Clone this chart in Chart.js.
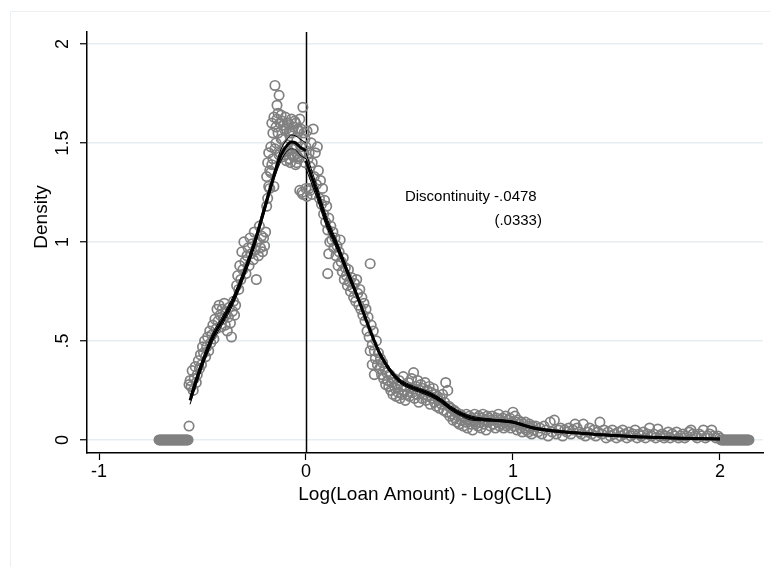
<!DOCTYPE html>
<html>
<head>
<meta charset="utf-8">
<script src="https://cdn.jsdelivr.net/npm/chart.js@4.4.1/dist/chart.umd.min.js"></script>
<style>
    html, body { margin: 0; padding: 0; background: #fff; }
    #wrap { position: relative; width: 770px; height: 567px; }
</style>
</head>
<body>
<div id="wrap"><canvas id="chart1" width="770" height="567"></canvas></div>
<script>
// binned density estimates: [log difference, density]
const binsLowTail = [
    [-0.71,0],[-0.705,0],[-0.70,0],[-0.695,0],[-0.69,0],[-0.685,0],[-0.68,0],[-0.675,0],[-0.67,0],
    [-0.665,0],[-0.66,0],[-0.655,0],[-0.65,0],[-0.645,0],[-0.64,0],[-0.635,0],[-0.63,0],[-0.625,0],
    [-0.62,0],[-0.615,0],[-0.61,0],[-0.605,0],[-0.60,0],[-0.595,0],[-0.59,0],[-0.585,0],[-0.58,0],
    [-0.575,0],[-0.57,0],[-0.565,0.07]
];
const binsRise = [
    [-0.565,0.28],[-0.56,0.30],[-0.555,0.27],[-0.55,0.35],[-0.545,0.25],[-0.54,0.31],[-0.535,0.37],
    [-0.53,0.29],[-0.525,0.33],[-0.52,0.40],[-0.515,0.36],[-0.51,0.43],[-0.505,0.38],[-0.50,0.47],
    [-0.495,0.44],[-0.49,0.50],[-0.485,0.42],[-0.48,0.47],[-0.475,0.52],[-0.47,0.45],[-0.465,0.55],
    [-0.46,0.49],[-0.455,0.53],[-0.45,0.58],[-0.445,0.51],[-0.44,0.61],[-0.435,0.56],[-0.43,0.66],
    [-0.425,0.60],[-0.42,0.68],[-0.415,0.63],[-0.41,0.57],[-0.405,0.66],[-0.40,0.61],[-0.395,0.69],
    [-0.39,0.58],[-0.385,0.64],[-0.38,0.55],[-0.375,0.62],[-0.37,0.67],[-0.365,0.59],[-0.36,0.52],
    [-0.355,0.65],[-0.35,0.70],[-0.345,0.63],[-0.34,0.68],[-0.335,0.78],[-0.33,0.83],[-0.325,0.76],
    [-0.32,0.88],[-0.315,0.81],[-0.31,0.95],[-0.305,0.86],[-0.30,1.00],[-0.295,0.90],[-0.29,0.84],
    [-0.285,0.93],[-0.28,0.97],[-0.275,0.88],[-0.27,1.02],[-0.265,0.94],[-0.26,0.99],[-0.255,0.91],
    [-0.25,1.05],[-0.245,0.96],[-0.24,0.81],[-0.235,1.00],[-0.23,0.93],[-0.225,1.08],[-0.22,0.97],
    [-0.215,1.03],[-0.21,0.95],[-0.205,1.02],[-0.20,0.98],[-0.195,1.05]
];
const binsPeak = [
    [-0.19,1.18],[-0.19,1.33],[-0.185,1.22],[-0.185,1.40],[-0.18,1.28],[-0.18,1.45],[-0.175,1.27],
    [-0.175,1.36],[-0.17,1.35],[-0.17,1.48],[-0.165,1.39],[-0.165,1.60],[-0.16,1.42],[-0.16,1.55],
    [-0.155,1.28],[-0.155,1.63],[-0.15,1.47],[-0.15,1.79],[-0.145,1.58],[-0.145,1.50],[-0.14,1.62],
    [-0.14,1.69],[-0.135,1.55],[-0.135,1.65],[-0.13,1.74],[-0.13,1.44],[-0.125,1.60],[-0.125,1.45],
    [-0.12,1.64],[-0.12,1.52],[-0.115,1.52],[-0.115,1.61],[-0.11,1.59],[-0.11,1.43],[-0.105,1.44],
    [-0.105,1.57],[-0.10,1.63],[-0.10,1.48],[-0.095,1.57],[-0.095,1.41],[-0.09,1.49],[-0.09,1.60],
    [-0.085,1.60],[-0.085,1.46],[-0.08,1.42],[-0.08,1.56],[-0.075,1.55],[-0.075,1.40],[-0.07,1.62],
    [-0.07,1.44],[-0.065,1.47],[-0.065,1.56],[-0.06,1.58],[-0.06,1.43],[-0.055,1.44],[-0.055,1.61],
    [-0.05,1.60],[-0.05,1.39],[-0.045,1.51],[-0.045,1.40],[-0.04,1.43],[-0.04,1.57],[-0.035,1.56],
    [-0.035,1.42],[-0.03,1.62],[-0.03,1.26],[-0.025,1.48],[-0.025,1.57],[-0.02,1.25],[-0.02,1.45],
    [-0.015,1.68],[-0.015,1.24],[-0.01,1.45],[-0.01,1.55],[-0.005,1.52],[-0.005,1.40]
];
const binsFall = [
    [0.0,1.48],[0.0,1.27],[0.005,1.56],[0.005,1.23],[0.01,1.42],[0.015,1.27],[0.015,1.45],[0.02,1.38],
    [0.02,1.26],[0.025,1.50],[0.03,1.24],[0.03,1.40],[0.035,1.57],[0.04,1.33],[0.045,1.45],[0.05,1.29],
    [0.055,1.48],[0.06,1.36],[0.065,1.22],[0.07,1.31],[0.075,1.19],[0.08,1.27],[0.085,1.14],[0.09,1.21],
    [0.095,1.10],[0.10,1.18],[0.105,1.06],[0.105,0.84],[0.11,1.12],[0.11,0.94],[0.115,1.00],[0.12,1.08],
    [0.125,1.01],[0.13,1.05],[0.135,0.97],[0.14,1.02],[0.145,0.93],[0.15,0.98],[0.155,0.88],[0.16,0.95],
    [0.165,1.01],[0.17,0.90],[0.175,0.85],[0.18,0.92],[0.185,0.81],[0.19,0.87],[0.195,0.83],[0.20,0.78],
    [0.205,0.86],[0.21,0.80],[0.215,0.75],[0.22,0.82],[0.225,0.77],[0.23,0.72],[0.235,0.79],[0.24,0.70],
    [0.245,0.81],[0.25,0.74],[0.255,0.68],[0.26,0.76],[0.265,0.66],[0.27,0.72],[0.275,0.63],[0.28,0.69],
    [0.285,0.60],[0.29,0.66],[0.295,0.55],[0.30,0.62],[0.305,0.52],[0.31,0.89],[0.31,0.45],[0.315,0.58],
    [0.32,0.48],[0.32,0.38],[0.325,0.55],[0.33,0.45],[0.33,0.33],[0.335,0.41],[0.34,0.50],[0.345,0.38],
    [0.35,0.44],[0.355,0.36],[0.36,0.41]
];
const binsShoulder = [
    [0.365,0.33],[0.37,0.39],[0.375,0.31],[0.38,0.36],[0.385,0.28],[0.39,0.34],[0.395,0.30],[0.40,0.27],
    [0.405,0.33],[0.41,0.25],[0.415,0.29],[0.42,0.23],[0.425,0.31],[0.43,0.26],[0.435,0.22],[0.44,0.28],
    [0.445,0.24],[0.45,0.30],[0.455,0.21],[0.46,0.27],[0.465,0.23],[0.47,0.32],[0.475,0.25],[0.48,0.20],
    [0.485,0.27],[0.49,0.23],[0.495,0.29],[0.50,0.22],[0.505,0.26],[0.51,0.31],[0.515,0.24],[0.52,0.34],
    [0.525,0.21],[0.53,0.27],[0.535,0.23],[0.54,0.30],[0.545,0.19],[0.55,0.25],[0.555,0.28],[0.56,0.21],
    [0.565,0.26],[0.57,0.23],[0.575,0.29],[0.58,0.20],[0.585,0.25],[0.59,0.22],[0.595,0.27],[0.60,0.18],
    [0.605,0.24],[0.61,0.21],[0.615,0.26],[0.62,0.19],[0.625,0.23],[0.63,0.17],[0.635,0.22],[0.64,0.20],
    [0.645,0.16],[0.65,0.21],[0.655,0.18],[0.66,0.23],[0.665,0.15],[0.67,0.19],[0.675,0.29],[0.68,0.14],
    [0.685,0.25],[0.69,0.17],[0.695,0.12],[0.70,0.16],[0.705,0.13],[0.71,0.10],[0.715,0.15],[0.72,0.11],
    [0.725,0.14],[0.73,0.09],[0.735,0.12],[0.74,0.08],[0.745,0.13],[0.75,0.10],[0.755,0.12],[0.76,0.07],
    [0.765,0.11],[0.77,0.09],[0.775,0.13],[0.78,0.06],[0.785,0.10],[0.79,0.12],[0.795,0.08],[0.80,0.11],
    [0.805,0.05],[0.81,0.10],[0.815,0.13],[0.82,0.08],[0.825,0.11],[0.83,0.07],[0.835,0.12],[0.84,0.09],
    [0.845,0.06],[0.85,0.11],[0.855,0.13],[0.86,0.08],[0.865,0.10],[0.87,0.05],[0.875,0.12],[0.88,0.09],
    [0.885,0.11],[0.89,0.07],[0.895,0.10],[0.90,0.12],[0.905,0.08],[0.91,0.10],[0.915,0.06],[0.92,0.11],
    [0.925,0.09],[0.93,0.13],[0.935,0.07],[0.94,0.10],[0.945,0.08],[0.95,0.11],[0.955,0.06],[0.96,0.09],
    [0.965,0.12],[0.97,0.07],[0.975,0.10],[0.98,0.08],[0.985,0.11],[0.99,0.06],[0.995,0.09],[1.00,0.14],
    [1.005,0.07],[1.01,0.12],[1.015,0.09],[1.02,0.05],[1.025,0.10],[1.03,0.08],[1.035,0.06],[1.04,0.09],
    [1.045,0.04],[1.05,0.08],[1.055,0.06],[1.06,0.09],[1.065,0.05],[1.07,0.07],[1.075,0.04],[1.08,0.08],
    [1.085,0.06],[1.09,0.03],[1.095,0.07],[1.10,0.05]
];
const binsTail = [
    [1.11,0.07],[1.12,0.04],[1.13,0.06],[1.14,0.03],[1.15,0.07],[1.16,0.05],[1.17,0.02],[1.18,0.09],
    [1.19,0.04],[1.20,0.10],[1.21,0.03],[1.22,0.05],[1.23,0.06],[1.24,0.02],[1.25,0.05],[1.26,0.04],
    [1.27,0.06],[1.28,0.03],[1.29,0.05],[1.30,0.08],[1.31,0.06],[1.32,0.04],[1.33,0.03],[1.34,0.08],
    [1.35,0.02],[1.36,0.04],[1.37,0.06],[1.38,0.03],[1.39,0.05],[1.40,0.02],[1.41,0.04],[1.42,0.09],
    [1.43,0.03],[1.44,0.05],[1.45,0.01],[1.46,0.04],[1.47,0.02],[1.48,0.05],[1.49,0.03],[1.50,0.01],
    [1.51,0.04],[1.52,0.02],[1.53,0.05],[1.54,0.03],[1.55,0.01],[1.56,0.04],[1.57,0.02],[1.58,0.03],
    [1.59,0.05],[1.60,0.01],[1.61,0.03],[1.62,0.02],[1.63,0.04],[1.64,0.01],[1.65,0.03],[1.66,0.06],
    [1.67,0.02],[1.68,0.03],[1.69,0.01],[1.70,0.055],[1.71,0.02],[1.72,0.03],[1.73,0.01],[1.74,0.02],
    [1.75,0.04],[1.76,0.01],[1.77,0.03],[1.78,0.02],[1.79,0.04],[1.80,0.01],[1.81,0.02],[1.82,0.03],
    [1.83,0.01],[1.84,0.02],[1.85,0.04],[1.86,0.05],[1.87,0.03],[1.88,0.02],[1.89,0.01],[1.90,0.03],
    [1.91,0.02],[1.92,0.05],[1.93,0.01],[1.94,0.02],[1.95,0.03],[1.96,0.05],[1.97,0.02],[1.98,0.01],
    [1.99,0.02],[2.00,0.01]
];
const binsHighTail = [
    [2.005,0],[2.01,0],[2.015,0],[2.02,0],[2.025,0],[2.03,0],[2.035,0],[2.04,0],[2.045,0],[2.05,0],
    [2.055,0],[2.06,0],[2.065,0],[2.07,0],[2.075,0],[2.08,0],[2.085,0],[2.09,0],[2.095,0],[2.10,0],
    [2.105,0],[2.11,0],[2.115,0],[2.12,0],[2.125,0],[2.13,0],[2.135,0],[2.14,0]
];

// local polynomial fit, each side of the cutoff, with its confidence band
const fitLeftX  = [-0.56, -0.53, -0.50, -0.45, -0.40, -0.35, -0.30, -0.25, -0.20, -0.15, -0.12, -0.09, -0.07, -0.05, -0.03, 0];
const fitLeftY  = [0.20, 0.30, 0.39, 0.52, 0.61, 0.71, 0.84, 0.99, 1.17, 1.35, 1.44, 1.49, 1.505, 1.50, 1.48, 1.46];
const fitLeftHi = [0.22, 0.32, 0.41, 0.54, 0.63, 0.73, 0.86, 1.01, 1.19, 1.37, 1.47, 1.52, 1.54, 1.535, 1.52, 1.50];
const fitLeftLo = [0.18, 0.28, 0.37, 0.50, 0.59, 0.69, 0.82, 0.97, 1.15, 1.33, 1.41, 1.46, 1.47, 1.465, 1.44, 1.42];

const fitRightX  = [0, 0.05, 0.10, 0.15, 0.20, 0.25, 0.30, 0.35, 0.40, 0.45, 0.50, 0.55, 0.60, 0.65, 0.70,
                    0.75, 0.80, 0.90, 1.00, 1.05, 1.10, 1.20, 1.30, 1.40, 1.50, 1.60, 1.70, 1.80, 1.90, 2.00];
const fitRightY  = [1.41, 1.26, 1.10, 0.98, 0.85, 0.72, 0.58, 0.45, 0.36, 0.30, 0.27, 0.25, 0.23, 0.20, 0.16,
                    0.13, 0.11, 0.10, 0.09, 0.075, 0.06, 0.045, 0.036, 0.028, 0.022, 0.016, 0.012, 0.009, 0.007, 0.005];
const fitRightHi = [1.45, 1.29, 1.125, 1.00, 0.865, 0.73, 0.59, 0.46, 0.37, 0.31, 0.28, 0.26, 0.24, 0.21, 0.17,
                    0.14, 0.12, 0.105, 0.095, 0.08, 0.065, 0.05, 0.04, 0.032, 0.026, 0.02, 0.016, 0.013, 0.011, 0.009];
const fitRightLo = [1.37, 1.23, 1.075, 0.96, 0.835, 0.71, 0.57, 0.44, 0.35, 0.29, 0.26, 0.24, 0.22, 0.19, 0.15,
                    0.12, 0.10, 0.095, 0.085, 0.07, 0.055, 0.04, 0.032, 0.024, 0.018, 0.012, 0.008, 0.005, 0.003, 0.001];

const xTicks = [-1, 0, 1, 2];
const yTicks = [0, 0.5, 1, 1.5, 2];
const yTickLabels = ['0', '.5', '1', '1.5', '2'];
const cutoff = 0;
const estimateText = 'Discontinuity -.0478';
const seText = '(.0333)';

const FONT = '"Liberation Sans", Arial, Helvetica, sans-serif';

function toPoints(xs, ys) {
    return xs.map((x, i) => ({ x: x, y: ys[i] }));
}

function fitLine(xs, ys, width) {
    return {
        type: 'line',
        data: toPoints(xs, ys),
        borderColor: '#000',
        borderWidth: width,
        pointRadius: 0,
        fill: false,
        cubicInterpolationMode: 'monotone',
        order: 1
    };
}

const allBins = [].concat(binsLowTail, binsRise, binsPeak, binsFall, binsShoulder, binsTail, binsHighTail)
    .map(p => ({ x: p[0], y: p[1] }));

// frame, cutoff line, rotated y labels and the estimate text
const decor = {
    id: 'decor',
    beforeDraw(chart) {
        const ctx = chart.ctx;
        ctx.save();
        ctx.fillStyle = '#fff';
        ctx.fillRect(0, 0, chart.width, chart.height);
        ctx.strokeStyle = '#edf0f2';
        ctx.lineWidth = 1;
        ctx.beginPath();
        ctx.moveTo(10.5, chart.height);
        ctx.lineTo(10.5, 11.5);
        ctx.lineTo(chart.width, 11.5);
        ctx.stroke();
        ctx.restore();
    },
    beforeDatasetsDraw(chart) {
        const ctx = chart.ctx;
        const area = chart.chartArea;
        const px = Math.round(chart.scales.x.getPixelForValue(cutoff)) + 0.5;
        ctx.save();
        ctx.strokeStyle = '#000';
        ctx.lineWidth = 1.5;
        ctx.beginPath();
        ctx.moveTo(px, area.top);
        ctx.lineTo(px, area.bottom);
        ctx.stroke();
        ctx.restore();
    },
    afterDraw(chart) {
        const ctx = chart.ctx;
        const xs = chart.scales.x;
        const ys = chart.scales.y;
        const area = chart.chartArea;
        ctx.save();
        ctx.fillStyle = '#000';
        ctx.font = '18px ' + FONT;
        ctx.textAlign = 'center';
        ctx.textBaseline = 'middle';
        yTicks.forEach((v, i) => {
            ctx.save();
            ctx.translate(63, ys.getPixelForValue(v));
            ctx.rotate(-Math.PI / 2);
            ctx.fillText(yTickLabels[i], 0, 0);
            ctx.restore();
        });
        ctx.font = '19px ' + FONT;
        ctx.save();
        ctx.translate(42, 217);
        ctx.rotate(-Math.PI / 2);
        ctx.fillText('Density', 0, 0);
        ctx.restore();
        ctx.fillText('Log(Loan Amount) - Log(CLL)', (area.left + area.right) / 2, 495);

        ctx.font = '15px ' + FONT;
        ctx.textAlign = 'left';
        ctx.fillText(estimateText, xs.getPixelForValue(0.478), ys.getPixelForValue(1.23));
        ctx.textAlign = 'right';
        ctx.fillText(seText, xs.getPixelForValue(1.14), ys.getPixelForValue(1.105));
        ctx.restore();
    }
};

window.addEventListener('DOMContentLoaded', () => {
    const ctx1 = document.getElementById('chart1').getContext('2d');
    new Chart(ctx1, {
        type: 'scatter',
        data: {
            datasets: [
                fitLine(fitLeftX, fitLeftY, 3),
                fitLine(fitRightX, fitRightY, 3),
                fitLine(fitLeftX, fitLeftHi, 1),
                fitLine(fitLeftX, fitLeftLo, 1),
                fitLine(fitRightX, fitRightHi, 1),
                fitLine(fitRightX, fitRightLo, 1),
                {
                    type: 'scatter',
                    data: allBins,
                    pointStyle: 'circle',
                    pointRadius: 4.7,
                    pointBorderWidth: 1.7,
                    pointBorderColor: '#808080',
                    pointBackgroundColor: 'rgba(0,0,0,0)',
                    order: 2
                }
            ]
        },
        options: {
            responsive: false,
            animation: false,
            events: [],
            layout: { padding: { left: 0, right: 7, top: 32, bottom: 0 } },
            plugins: {
                legend: { display: false },
                tooltip: { enabled: false }
            },
            scales: {
                x: {
                    type: 'linear',
                    min: -1.058,
                    max: 2.208,
                    afterBuildTicks: s => { s.ticks = xTicks.map(v => ({ value: v })); },
                    afterFit: s => { s.height = 114; },
                    grid: {
                        drawOnChartArea: false,
                        drawTicks: true,
                        tickLength: 7,
                        tickColor: '#000',
                        tickWidth: 1.2
                    },
                    border: { color: '#000', width: 1.5 },
                    ticks: {
                        color: '#000',
                        font: { family: FONT, size: 18 },
                        padding: 1,
                        maxRotation: 0,
                        callback: v => String(v)
                    }
                },
                y: {
                    type: 'linear',
                    min: -0.066,
                    max: 2.06,
                    afterBuildTicks: s => { s.ticks = yTicks.map(v => ({ value: v })); },
                    afterFit: s => { s.width = 87; },
                    grid: {
                        color: '#e6eef1',
                        lineWidth: 1.5,
                        drawTicks: true,
                        tickLength: 7,
                        tickColor: '#000',
                        tickWidth: 1.2
                    },
                    border: { color: '#000', width: 1.5 },
                    ticks: { display: false }
                }
            }
        },
        plugins: [decor]
    });
});
</script>
</body>
</html>
